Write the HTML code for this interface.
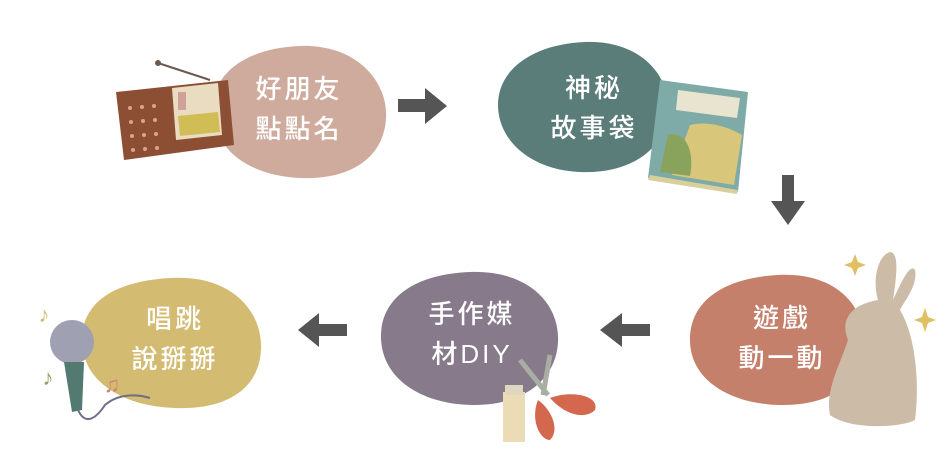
<!DOCTYPE html>
<html><head><meta charset="utf-8"><style>
html,body{margin:0;padding:0;background:#fff;width:950px;height:469px;overflow:hidden}
svg text{font-family:"Liberation Sans","Noto Sans CJK TC",sans-serif;font-size:26px;fill:#fff;letter-spacing:3px;text-anchor:middle;font-weight:500}
</style></head><body>
<svg width="950" height="469" viewBox="0 0 950 469" xmlns="http://www.w3.org/2000/svg">
<!-- blobs -->
<path d="M300,46 C355,44 388,80 386,118 C384,158 350,180 300,178 C252,176 215,152 213,112 C211,72 248,48 300,46Z" fill="#cfab9e"/>
<path d="M585,42 C640,40 670,75 668,110 C666,150 630,174 580,172 C530,170 498,140 498,105 C498,68 535,44 585,42Z" fill="#5a7d79"/>
<path d="M778,275 C835,272 866,305 864,345 C862,385 828,406 780,405 C730,404 690,380 690,340 C690,300 725,278 778,275Z" fill="#c4806b"/>
<path d="M470,272 C530,270 560,305 558,342 C556,382 520,406 472,405 C420,404 382,378 381,338 C380,298 415,274 470,272Z" fill="#877a8b"/>
<path d="M170,278 C230,274 262,310 261,348 C260,390 225,410 175,408 C120,406 82,380 82,340 C82,300 118,281 170,278Z" fill="#d4bb72"/>
<!-- text -->
<text x="299" y="98">好朋友</text><text x="299" y="138">點點名</text>
<text x="594" y="97">神秘</text><text x="594" y="137">故事袋</text>
<text x="782" y="327">遊戲</text><text x="782" y="367">動一動</text>
<text x="472" y="323">手作媒</text><text x="472" y="363">材DIY</text>
<text x="175" y="328">唱跳</text><text x="175" y="368">說掰掰</text>
<!-- arrows -->
<g fill="#555">
<path d="M398,99 H425 V88 L447,106 L425,124 V112 H398Z"/>
<path d="M782,175 V201 H771 L788,225 L805,201 H794 V175Z"/>
<path d="M650,324 H622 V313 L600,330 L622,347 V336 H650Z"/>
<path d="M347,324 H319 V313 L298,330 L319,347 V336 H347Z"/>
</g>
<!-- radio -->
<line x1="158" y1="63" x2="210" y2="80" stroke="#6a5a50" stroke-width="2"/>
<circle cx="158" cy="63" r="3" fill="#6a5a50"/>
<path d="M116,92 L228,80 L234,145 L124,160Z" fill="#8d4f34"/>
<path d="M172,88 L218,83 L222,135 L176,140Z" fill="#e9dcc0"/>
<path d="M178,116 L218,112 L220,132 L180,136Z" fill="#d0bd55"/>
<rect x="178" y="92" width="8" height="18" fill="#cfa19a"/>
<g fill="#d9a48e"><circle cx="130" cy="108" r="2"/><circle cx="142" cy="107" r="2"/><circle cx="154" cy="106" r="2"/><circle cx="131" cy="122" r="2"/><circle cx="143" cy="121" r="2"/><circle cx="155" cy="120" r="2"/><circle cx="132" cy="136" r="2"/><circle cx="144" cy="135" r="2"/><circle cx="156" cy="134" r="2"/><circle cx="133" cy="150" r="2"/><circle cx="145" cy="149" r="2"/><circle cx="157" cy="148" r="2"/></g>
<!-- book -->
<path d="M660,80 L748,92 L738,192 L648,178Z" fill="#7eaaa8"/>
<path d="M678,90 L740,98 L737,118 L676,110Z" fill="#e8e4d0"/>
<path d="M690,125 C710,120 730,128 742,135 L734,185 L672,175Z" fill="#d8c77a"/>
<path d="M668,135 C685,130 695,150 690,176 L660,172Z" fill="#8aa35c"/>
<path d="M650,175 L738,190 L737,194 L648,180Z" fill="#d8cf9a"/>
<!-- rabbit -->
<path d="M878,300 C872,280 878,255 890,252 C900,252 896,280 893,300 C900,285 910,262 915,270 C918,285 905,300 900,310 C915,335 920,380 915,420 C900,428 850,430 830,415 C825,390 840,365 848,340 C840,320 850,305 878,300Z" fill="#cbbba7"/>
<g fill="#e0c062"><path d="M852,262 l3,-8 l3,8 l8,3 l-8,3 l-3,8 l-3,-8 l-8,-3Z"/><path d="M922,317 l3,-9 l3,9 l8,3 l-8,3 l-3,9 l-3,-9 l-8,-3Z"/></g>
<!-- scissors & glue -->
<path d="M503,392 h22 v50 h-22Z" fill="#ecdcb5"/><rect x="505" y="385" width="18" height="10" fill="#e0d7c0"/>
<line x1="520" y1="360" x2="548" y2="395" stroke="#a9aea3" stroke-width="5"/>
<line x1="550" y1="355" x2="543" y2="395" stroke="#a9aea3" stroke-width="5"/>
<path d="M538,400 C530,420 540,440 550,440 C560,430 552,410 538,400Z" fill="#d4684e"/>
<path d="M550,398 C570,390 600,395 595,410 C585,420 565,415 550,398Z" fill="#d4684e"/>
<!-- mic -->
<circle cx="72" cy="342" r="22" fill="#9fa0b2"/>
<path d="M64,362 L84,362 L82,410 L72,412 Z" fill="#537a70"/>
<path d="M78,410 C85,425 95,420 105,405 C120,392 140,395 150,398" stroke="#6d6e88" stroke-width="2" fill="none"/>
<text x="44" y="322" style="fill:#d4bb72;font-size:22px;letter-spacing:0">♪</text>
<text x="48" y="385" style="fill:#9aa060;font-size:22px;letter-spacing:0">♪</text>
<text x="112" y="392" style="fill:#d6806a;font-size:22px;letter-spacing:0">♫</text>
</svg>
</body></html>
